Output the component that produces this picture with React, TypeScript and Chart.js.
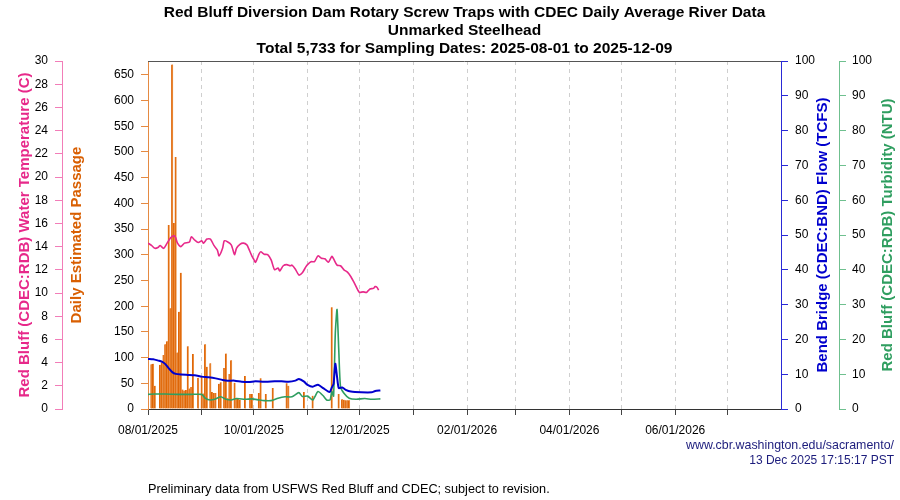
import { useEffect, useRef } from "react";
import { Chart, registerables } from "chart.js";
Chart.register(...registerables);

const FONT = '"Liberation Sans", Arial, sans-serif';
const START = Date.UTC(2025, 7, 1);
const DAY = 86400000;
const X_MAX = Math.round((Date.UTC(2026, 7, 1) - START) / DAY);

const titleLines = [
  "Red Bluff Diversion Dam Rotary Screw Traps with CDEC Daily Average River Data",
  "Unmarked Steelhead",
  "Total 5,733 for Sampling Dates: 2025-08-01 to 2025-12-09",
];
const tempTitle = "Red Bluff (CDEC:RDB) Water Temperature (C)";
const passTitle = "Daily Estimated Passage";
const flowTitle = "Bend Bridge (CDEC:BND) Flow (TCFS)";
const turbTitle = "Red Bluff (CDEC:RDB) Turbidity (NTU)";
const footerUrl = "www.cbr.washington.edu/sacramento/";
const footerDate = "13 Dec 2025 17:15:17 PST";
const footerNote = "Preliminary data from USFWS Red Bluff and CDEC; subject to revision.";

// day offsets from 2025-08-01
const passageDays = [2,3,4,7,8,9,10,11,12,13,14,15,16,17,18,19,20,21,22,23,24,25,26,29,31,32,33,34,36,37,38,39,41,42,44,45,46,47,48,50,51,52,53,56,59,60,64,65,68,72,80,81,90,95,106,110,112,113,114,115,116];
const passageCounts = [87,88,45,86,91,105,126,132,358,196,670,362,490,110,189,265,38,36,37,122,40,43,107,61,64,30,126,82,89,33,31,31,49,52,80,108,21,68,95,51,21,20,18,64,29,29,31,60,29,41,50,45,33,26,198,29,19,18,17,17,17];

const tempDays = [0,2,4,6,7,9,11,13,15,16,17,19,21,23,24,25,27,29,31,32,34,36,38,40,41,43,44,46,48,49,50,51,53,55,57,58,60,61,62,64,65,67,69,71,73,75,76,78,80,82,83,85,87,89,91,92,94,96,98,100,102,104,106,107,109,111,113,115,117,119,121,122,124,126,128,130,131,132,133];
const tempValues = [14.3,14.1,13.85,13.95,14.1,13.85,14.3,14.75,14.95,14.75,14.3,14.0,14.3,14.35,14.4,14.85,14.55,14.35,14.5,14.3,14.65,14.65,14.1,13.7,13.2,13.85,14.5,14.4,14.15,13.7,13.3,13.85,14.2,14.3,14.15,13.85,13.15,12.9,12.65,13.35,13.55,13.35,13.3,12.85,12.0,12.15,11.9,12.35,12.45,12.35,12.4,12.05,11.55,11.75,12.25,12.45,12.7,12.7,13.2,13.0,12.95,12.65,13.15,12.95,12.4,12.35,12.0,11.8,11.4,10.85,10.25,10.05,10.1,10.05,10.35,10.4,10.55,10.5,10.25];

const flowDays = [0,3,6,8,10,12,14,16,19,23,27,31,35,39,43,46,50,54,58,62,66,69,73,77,81,85,87,90,92,95,98,101,104,105,106,107,108,109,110,112,114,117,123,129,131,134];
const flowValues = [14.4,14.3,13.9,13.6,12.9,11.7,10.6,10.1,9.9,9.8,9.7,9.3,9.1,8.8,8.35,8.15,8.15,7.85,7.75,7.95,7.85,7.85,7.95,7.95,7.85,8.15,8.6,7.85,6.9,6.4,7.0,6.0,5.0,5.0,6.2,7.2,13.0,9.3,6.0,6.2,5.5,5.0,4.8,4.8,5.2,5.3];

const turbDays = [0,4,10,17,25,31,33,36,39,42,45,48,51,56,60,64,67,71,75,79,83,87,89,92,95,98,101,103,105,106,107,108,109,110,111,113,116,120,125,129,134];
const turbValues = [4.2,4.3,4.3,4.2,4.2,4.2,3.1,2.6,2.9,3.5,2.8,2.6,3.0,2.8,2.9,2.6,2.4,2.4,3.1,3.5,3.5,4.7,3.6,3.7,2.6,5.0,3.8,2.6,2.6,5.0,3.7,21.7,28.6,17.0,6.4,4.5,3.1,2.8,3.0,2.8,2.9];

const PASS_MAX = 677;

const zip = (xs: number[], ys: number[]) => xs.map((x, i) => ({ x, y: ys[i] }));

const monthTicks: number[] = [];
const monthLabels: Record<number, string> = {};
for (let m = 0; m < 12; m++) {
  const d = new Date(Date.UTC(2025, 7 + m, 1));
  const v = Math.round((d.getTime() - START) / DAY);
  monthTicks.push(v);
  if (m % 2 === 0) {
    const mm = String(d.getUTCMonth() + 1).padStart(2, "0");
    monthLabels[v] = `${mm}/01/${d.getUTCFullYear()}`;
  }
}

const C_TEMP = "#e7298a";
const C_TEMP_AX = "#f27db8";
const C_PASS = "#d95f02";
const C_PASS_AX = "#e58a42";
const C_FLOW = "#0000cd";
const C_FLOW_AX = "#2a2ad6";
const C_TURB = "#2f9e60";
const C_TURB_AX = "#6fc08f";

const decor = {
  id: "decor",
  afterDraw(chart: any) {
    const { ctx, chartArea: ca, scales } = chart;
    ctx.save();
    ctx.strokeStyle = "#555";
    ctx.lineWidth = 1;
    ctx.beginPath();
    ctx.moveTo(ca.left, ca.top + 0.5);
    ctx.lineTo(ca.right, ca.top + 0.5);
    ctx.stroke();

    ctx.fillStyle = "#000";
    ctx.font = `bold 15.5px ${FONT}`;
    ctx.textAlign = "center";
    ctx.textBaseline = "middle";
    const cx = (ca.left + ca.right) / 2;
    titleLines.forEach((t, i) => ctx.fillText(t, cx, 13 + i * 18));

    const cy = (ca.top + ca.bottom) / 2;
    ctx.font = `bold 15px ${FONT}`;
    const vt = (text: string, x: number, color: string) => {
      ctx.save();
      ctx.translate(x, cy);
      ctx.rotate(-Math.PI / 2);
      ctx.fillStyle = color;
      ctx.fillText(text, 0, 0);
      ctx.restore();
    };
    vt(tempTitle, scales.yTemp.left + 17, C_TEMP);
    vt(passTitle, scales.yPass.left + 15, C_PASS);
    vt(flowTitle, scales.yFlow.right - 16, C_FLOW);
    vt(turbTitle, scales.yTurb.right - 12, C_TURB);

    ctx.textAlign = "right";
    ctx.fillStyle = "#1c1c7c";
    ctx.font = `12.4px ${FONT}`;
    ctx.fillText(footerUrl, 894, 446);
    ctx.font = `12px ${FONT}`;
    ctx.fillText(footerDate, 894, 461);
    ctx.textAlign = "left";
    ctx.fillStyle = "#000";
    ctx.font = `12.7px ${FONT}`;
    ctx.fillText(footerNote, 148, 489);
    ctx.restore();
  },
};

export default function App() {
  const ref = useRef<HTMLCanvasElement | null>(null);
  useEffect(() => {
    if (!ref.current) return;
    Chart.defaults.font.family = FONT;
    Chart.defaults.font.size = 12;
    const tickFont = { family: FONT, size: 12 };
    const chart = new Chart(ref.current, {
      type: "bar",
      data: {
        datasets: [
          {
            type: "line",
            label: "Flow",
            data: zip(flowDays, flowValues),
            yAxisID: "yFlow",
            borderColor: C_FLOW,
            borderWidth: 2,
            pointRadius: 0,
            tension: 0.2,
          } as any,
          {
            type: "line",
            label: "Turbidity",
            data: zip(turbDays, turbValues),
            yAxisID: "yTurb",
            borderColor: C_TURB,
            borderWidth: 1.6,
            pointRadius: 0,
            tension: 0.2,
          },
          {
            type: "line",
            label: "Temperature",
            data: zip(tempDays, tempValues),
            yAxisID: "yTemp",
            borderColor: C_TEMP,
            borderWidth: 1.6,
            pointRadius: 0,
            tension: 0.25,
          },
          {
            type: "bar",
            label: "Passage",
            data: zip(passageDays, passageCounts),
            yAxisID: "yPass",
            backgroundColor: "rgba(232,128,40,0.85)",
            borderColor: "#dd6000",
            borderWidth: { left: 1, right: 0, top: 0, bottom: 0 },
            barPercentage: 1,
            categoryPercentage: 1,
          },
        ],
      },
      options: {
        responsive: false,
        maintainAspectRatio: false,
        animation: false,
        layout: { padding: { left: 8, right: 0, top: 61, bottom: 61 } },
        plugins: { legend: { display: false }, tooltip: { enabled: false }, title: { display: false } },
        scales: {
          x: {
            type: "linear",
            min: 0,
            max: X_MAX,
            offset: false,
            afterBuildTicks: (s: any) => {
              s.ticks = monthTicks.map((v) => ({ value: v }));
            },
            afterFit: (s: any) => {
              s.height = 30;
            },
            ticks: {
              autoSkip: false,
              maxRotation: 0,
              padding: 8,
              color: "#000",
              font: tickFont,
              callback: (v: any) => monthLabels[v as number] ?? "",
            },
            grid: {
              offset: false,
              drawOnChartArea: true,
              color: (c: any) => (c.tick && c.tick.value === 0 ? "rgba(0,0,0,0)" : "#cfcfcf"),
              tickColor: "#444",
              tickLength: 6,
              tickBorderDash: [],
            },
            border: { display: true, color: "#333", dash: [4, 4] },
          },
          yPass: {
            type: "linear",
            position: "left",
            weight: 0,
            min: 0,
            max: PASS_MAX,
            afterFit: (s: any) => {
              s.width = 86;
            },
            ticks: { stepSize: 50, includeBounds: false, padding: 7, color: "#000", font: tickFont },
            grid: { drawOnChartArea: false, tickLength: 7, tickColor: C_PASS_AX },
            border: { display: true, color: C_PASS_AX },
          },
          yTemp: {
            type: "linear",
            position: "left",
            weight: 1,
            min: 0,
            max: 30,
            afterFit: (s: any) => {
              s.width = 54;
            },
            ticks: { stepSize: 2, includeBounds: false, padding: 7, color: "#000", font: tickFont },
            grid: { drawOnChartArea: false, tickLength: 7, tickColor: C_TEMP_AX },
            border: { display: true, color: C_TEMP_AX },
          },
          yFlow: {
            type: "linear",
            position: "right",
            weight: 0,
            min: 0,
            max: 100,
            afterFit: (s: any) => {
              s.width = 58;
            },
            ticks: { stepSize: 10, includeBounds: false, padding: 7, color: "#000", font: tickFont },
            grid: { drawOnChartArea: false, tickLength: 7, tickColor: C_FLOW_AX },
            border: { display: true, color: C_FLOW_AX },
          },
          yTurb: {
            type: "linear",
            position: "right",
            weight: 1,
            min: 0,
            max: 100,
            afterFit: (s: any) => {
              s.width = 61;
            },
            ticks: { stepSize: 10, includeBounds: false, padding: 6, color: "#000", font: tickFont },
            grid: { drawOnChartArea: false, tickLength: 7, tickColor: C_TURB_AX },
            border: { display: true, color: C_TURB_AX },
          },
        },
      } as any,
      plugins: [decor],
    });
    return () => chart.destroy();
  }, []);

  return (
    <div style={{ position: "fixed", left: 0, top: 0, width: 900, height: 500, background: "#fff" }}>
      <canvas ref={ref} width={900} height={500} style={{ width: 900, height: 500, display: "block" }} />
    </div>
  );
}
